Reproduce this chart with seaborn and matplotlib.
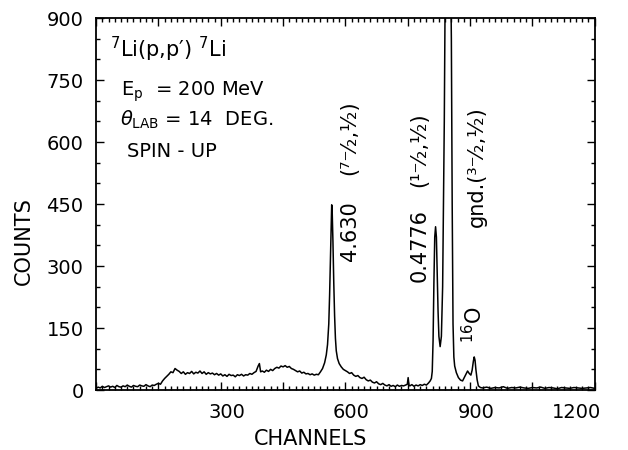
import matplotlib
matplotlib.use("Agg")
import matplotlib.pyplot as plt
import matplotlib.transforms as mtransforms
from matplotlib.ticker import MultipleLocator
import seaborn as sns
import pandas as pd

# spectrum (channel, counts)
channel = [0, 5, 10, 15, 20, 25, 30, 35, 40, 45, 50, 55, 60, 65, 70, 75, 80, 85, 90, 95,
           100, 105, 110, 115, 120, 125, 130, 135, 140, 145,
           150, 155, 160, 165, 170, 175, 180, 185, 190, 195, 200,
           205, 210, 215, 220, 225, 230, 235, 240, 245, 250, 255, 260, 265, 270, 275, 280, 285, 290,
           295, 300, 305, 310, 315, 320, 325, 330, 335, 340, 345, 350, 355, 360, 365, 370,
           375, 380, 385, 390, 393, 396, 400, 405, 410, 415, 420, 425, 430, 435, 440, 445, 450,
           455, 460, 465, 470,
           475, 480, 485, 490, 495, 500, 505, 510, 515, 520, 525, 530, 535, 540,
           545, 550, 554, 557, 560, 562, 564, 566, 567, 568, 570, 572, 574, 576, 578, 581, 585,
           590, 595, 600, 605, 610, 615, 620, 625, 630, 635, 640, 645, 650, 655, 660, 665, 670,
           675, 680, 685, 690, 695, 700, 705, 710, 715, 720, 725, 730, 735, 740, 745, 749, 751,
           753, 755, 760, 765, 770, 775, 780, 785, 790, 795,
           800, 804, 807, 809, 811, 813, 815, 817, 819, 821, 823, 825, 828, 831, 834, 836, 838,
           840, 844, 848, 852, 855, 857, 859, 861, 863, 867, 872, 877, 882, 886, 890, 894, 898,
           902, 905, 908, 910, 912, 914, 917, 920, 925,
           930, 940, 950, 960, 970, 980, 990, 1000, 1010, 1020, 1030, 1040, 1050, 1060, 1070,
           1080, 1090, 1100, 1110, 1120, 1130, 1140, 1150, 1160, 1170, 1180, 1190, 1200]
counts = [4, 7, 5, 9, 6, 8, 10, 7, 9, 6, 11, 8, 7, 10, 8, 12, 9, 7, 11, 9,
          8, 12, 10, 9, 13, 10, 8, 12, 11, 14,
          16, 14, 22, 28, 33, 38, 44, 42, 52, 48, 45,
          40, 44, 38, 42, 40, 45, 39, 43, 41, 46, 40, 44, 38, 42, 39, 41, 37, 40,
          36, 39, 34, 37, 33, 38, 35, 36, 32, 37, 35, 38, 34, 37, 36, 40,
          38, 42, 45, 58, 64, 44, 46, 43, 48, 45, 50, 47, 52, 55, 53, 58, 56,
          59, 55, 57, 52,
          50, 47, 44, 46, 41, 43, 39, 40, 37, 39, 36, 38, 37, 44,
          52, 66, 85, 110, 160, 230, 320, 420, 448, 440, 360, 260, 180, 125, 95, 76, 64,
          56, 50, 47, 44, 40, 42, 36, 33, 35, 30, 28, 31, 25, 22, 24, 19, 17,
          20, 15, 13, 16, 12, 10, 13, 9, 11, 8, 12, 9, 11, 10, 12, 14, 30,
          12, 10, 13, 9, 12, 10, 13, 11, 14, 12,
          17, 22, 28, 45, 120, 260, 370, 395, 370, 280, 190, 130, 105, 130, 250, 450, 650,
          950, 1300, 1350, 1150, 850, 450, 160, 80, 58, 42, 30, 24, 22, 30, 38, 46, 40,
          36, 48, 70, 80, 72, 50, 25, 10, 6,
          5, 7, 4, 6, 5, 8, 4, 6, 5, 7, 5, 4, 6, 5, 7,
          4, 6, 5, 3, 6, 5, 4, 6, 5, 4, 5, 6, 4]

x_ticks = [0, 150, 300, 450, 600, 750, 900, 1050, 1200]
x_labels = ["", "", "300", "", "600", "", "900", "", "1200"]
y_ticks = [0, 150, 300, 450, 600, 750, 900]

sns.set_theme(style="ticks")
plt.rcParams["font.family"] = ["DejaVu Sans"]
plt.rcParams["mathtext.default"] = "regular"
plt.rcParams["text.color"] = "black"
plt.rcParams["axes.labelcolor"] = "black"

fig = plt.figure(figsize=(6.28, 4.5), dpi=100)
ax = fig.add_axes([0.153, 0.1333, 0.794, 0.8267])

df = pd.DataFrame({"channel": channel, "counts": counts})
sns.lineplot(data=df, x="channel", y="counts", ax=ax, color="black", lw=1.1,
             estimator=None, sort=False)

ax.set_xlim(0, 1200)
ax.set_ylim(0, 900)
ax.set_xticks(x_ticks)
ax.set_xticklabels(x_labels)
ax.set_yticks(y_ticks)
ax.set_yticklabels([str(v) for v in y_ticks])
ax.xaxis.set_minor_locator(MultipleLocator(15))
ax.yaxis.set_minor_locator(MultipleLocator(50))
ax.tick_params(which="both", direction="in", top=True, right=True, width=1.0,
               colors="black", labelcolor="black")
ax.tick_params(which="major", length=6, labelsize=14, pad=9)
ax.tick_params(which="minor", length=3)
for s in ax.spines.values():
    s.set_linewidth(1.3)
    s.set_color("black")

# nudge x tick labels like the original
offset = mtransforms.ScaledTranslation(0.06, 0, fig.dpi_scale_trans)
for lbl in ax.get_xticklabels():
    lbl.set_transform(lbl.get_transform() + offset)
ax.get_xticklabels()[-1].set_ha("right")

ax.set_xlabel("CHANNELS", fontsize=15)
ax.set_ylabel("COUNTS", fontsize=15)
ax.xaxis.set_label_coords(0.43, -0.105)
ax.yaxis.set_label_coords(-0.125, 0.40)

# reaction info
ax.text(0.028, 0.955, "$^{7}$Li(p,p\u2032) $^{7}$Li", transform=ax.transAxes,
        fontsize=15, va="top", ha="left")
ax.text(0.05, 0.835, r"E$_{p}$  = 200 MeV", transform=ax.transAxes,
        fontsize=14, va="top", ha="left")
ax.text(0.048, 0.755, r"$\mathit{\theta}_{LAB}$ = 14  DEG.", transform=ax.transAxes,
        fontsize=14, va="top", ha="left")
ax.text(0.062, 0.668, "SPIN - UP", transform=ax.transAxes,
        fontsize=14, va="top", ha="left")

# peak labels
ax.text(610, 313, "4.630", rotation=90, fontsize=15, ha="center", va="bottom")
ax.text(609, 520, "(\u2077\u207b\u2044\u2082,\u00b9\u2044\u2082)", rotation=90, fontsize=15,
        ha="center", va="bottom")
ax.text(779, 261, "0.4776", rotation=90, fontsize=15, ha="center", va="bottom")
ax.text(777, 491, "(\u00b9\u207b\u2044\u2082,\u00b9\u2044\u2082)", rotation=90, fontsize=15,
        ha="center", va="bottom")
ax.text(917, 395, "gnd.(\u00b3\u207b\u2044\u2082,\u00b9\u2044\u2082)", rotation=90, fontsize=15,
        ha="center", va="bottom")
ax.text(908, 114, r"$^{16}$O", rotation=90, fontsize=15, ha="center", va="bottom")

fig.savefig("out.png", dpi=100)
